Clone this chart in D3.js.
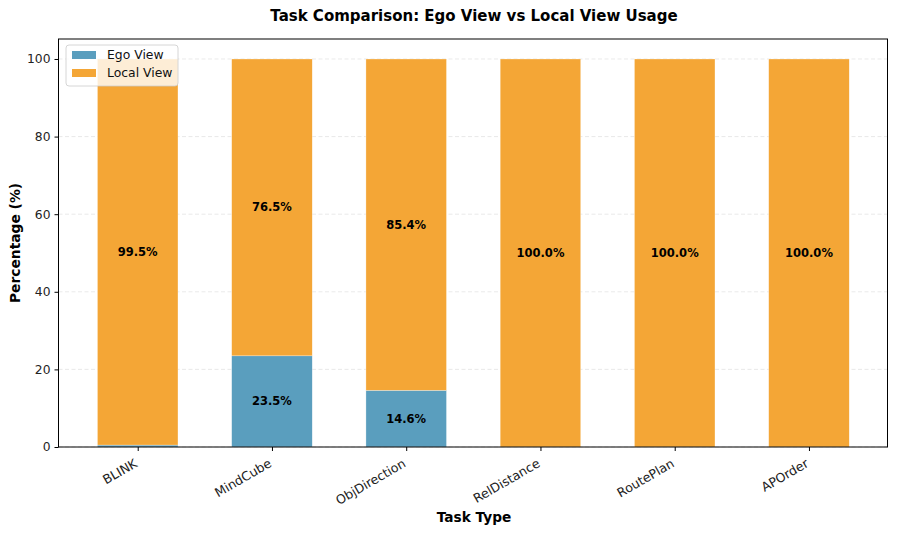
<!DOCTYPE html>
<html>
<head>
<meta charset="utf-8">
<script src="https://cdn.jsdelivr.net/npm/d3@7"></script>
<style>
  body { margin: 0; background: #fff; }
  svg { font-family: "DejaVu Sans", sans-serif; }
</style>
</head>
<body>
<svg width="897" height="534"></svg>
<script>
// data
var tasks = ['BLINK', 'MindCube', 'ObjDirection', 'RelDistance', 'RoutePlan', 'APOrder'];
var egoValues = [0.5, 23.5, 14.6, 0, 0, 0];
var localValues = [99.5, 76.5, 85.4, 100, 100, 100];
var yTicks = [0, 20, 40, 60, 80, 100];

var svg = d3.select('svg');
var plotL = 58.5, plotR = 887.5, plotT = 39, plotB = 447;

var xScale = d3.scaleLinear().domain([-0.59, 5.585]).range([plotL, plotR]);
var yScale = d3.scaleLinear().domain([0, 105.15]).range([plotB, plotT]);
var barW = xScale(0.6) - xScale(0);

var egoColor = '#5A9EBE', localColor = '#F4A636';

// grid
svg.append('g').selectAll('line').data(yTicks).enter().append('line')
  .attr('x1', plotL).attr('x2', plotR)
  .attr('y1', function (d) { return yScale(d); })
  .attr('y2', function (d) { return yScale(d); })
  .attr('stroke', '#e3e3e3').attr('stroke-width', 0.8)
  .attr('stroke-dasharray', '4,2.5');

// bars
var bars = svg.append('g');
bars.selectAll('rect.ego').data(tasks).enter().append('rect')
  .attr('class', 'ego')
  .attr('x', function (d, i) { return xScale(i) - barW / 2; })
  .attr('width', barW)
  .attr('y', function (d, i) { return yScale(egoValues[i]); })
  .attr('height', function (d, i) { return yScale(0) - yScale(egoValues[i]); })
  .attr('fill', egoColor).attr('stroke', '#fff').attr('stroke-opacity', 0.6).attr('stroke-width', 0.5);

bars.selectAll('rect.local').data(tasks).enter().append('rect')
  .attr('class', 'local')
  .attr('x', function (d, i) { return xScale(i) - barW / 2; })
  .attr('width', barW)
  .attr('y', function (d, i) { return yScale(egoValues[i] + localValues[i]); })
  .attr('height', function (d, i) { return yScale(egoValues[i]) - yScale(egoValues[i] + localValues[i]); })
  .attr('fill', localColor).attr('stroke', '#fff').attr('stroke-opacity', 0.6).attr('stroke-width', 0.5);

// value labels
var labels = svg.append('g').attr('font-size', 11.5).attr('font-weight', 'bold')
  .attr('text-anchor', 'middle').attr('fill', '#000');
tasks.forEach(function (t, i) {
  if (egoValues[i] > 5) {
    labels.append('text').attr('x', xScale(i)).attr('y', yScale(egoValues[i] / 2)).attr('dy', '0.35em')
      .text(egoValues[i].toFixed(1) + '%');
  }
  if (localValues[i] > 5) {
    labels.append('text').attr('x', xScale(i)).attr('y', yScale(egoValues[i] + localValues[i] / 2)).attr('dy', '0.35em')
      .text(localValues[i].toFixed(1) + '%');
  }
});

// frame
svg.append('rect').attr('x', plotL).attr('y', plotT).attr('width', plotR - plotL).attr('height', plotB - plotT)
  .attr('fill', 'none').attr('stroke', '#000').attr('stroke-width', 1);

// axes
var yAxis = d3.axisLeft(yScale).tickValues(yTicks).tickSize(4).tickPadding(4);
var yg = svg.append('g').attr('transform', 'translate(' + plotL + ',0)').call(yAxis);
yg.select('.domain').remove();
yg.selectAll('text').attr('font-size', 12.3).attr('font-family', 'DejaVu Sans').attr('fill', '#222');

var xAxis = d3.axisBottom(xScale).tickValues(d3.range(tasks.length))
  .tickFormat(function (i) { return tasks[i]; }).tickSize(4);
var xg = svg.append('g').attr('transform', 'translate(0,' + plotB + ')').call(xAxis);
xg.select('.domain').remove();
xg.selectAll('text').attr('font-size', 12.6).attr('font-family', 'DejaVu Sans').attr('fill', '#222')
  .attr('text-anchor', 'end').attr('x', 0).attr('y', 0).attr('dy', 0)
  .attr('transform', 'translate(0,19) rotate(-30)');

// titles
svg.append('text').attr('x', 474).attr('y', 21).attr('text-anchor', 'middle')
  .attr('font-size', 15).attr('font-weight', 'bold').text('Task Comparison: Ego View vs Local View Usage');
svg.append('text').attr('x', 474).attr('y', 522).attr('text-anchor', 'middle')
  .attr('font-size', 13.7).attr('font-weight', 'bold').text('Task Type');
svg.append('text').attr('transform', 'translate(20,' + ((plotT + plotB) / 2) + ') rotate(-90)')
  .attr('text-anchor', 'middle').attr('font-size', 13.8).attr('font-weight', 'bold').text('Percentage (%)');

// legend
var lg = svg.append('g').attr('transform', 'translate(66,45)');
lg.append('rect').attr('width', 112).attr('height', 41).attr('rx', 3)
  .attr('fill', '#fff').attr('fill-opacity', 0.8).attr('stroke', '#ccc').attr('stroke-width', 0.8);
var legItems = [['Ego View', egoColor], ['Local View', localColor]];
legItems.forEach(function (d, i) {
  lg.append('rect').attr('x', 6).attr('y', 6 + i * 18).attr('width', 24).attr('height', 8).attr('fill', d[1]);
  lg.append('text').attr('x', 41).attr('y', 10 + i * 18).attr('dy', '0.35em')
    .attr('font-size', 12.4).attr('fill', '#111').text(d[0]);
});
</script>
</body>
</html>
